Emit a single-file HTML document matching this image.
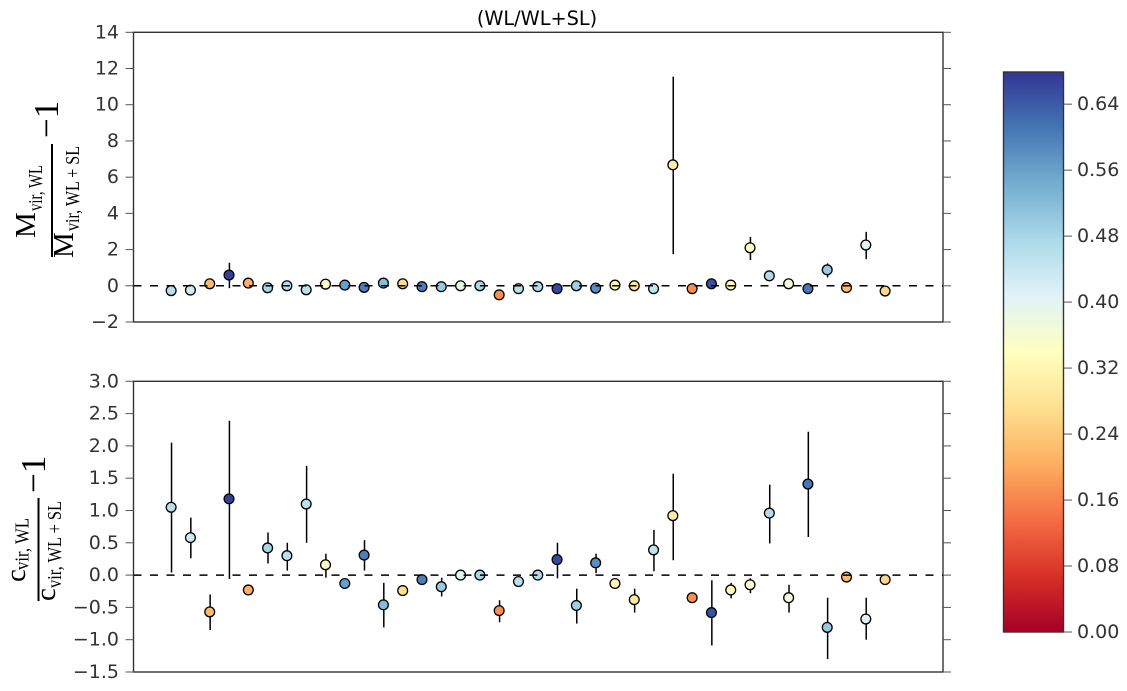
<!DOCTYPE html>
<html>
<head>
<meta charset="utf-8">
<title>WL/WL+SL ratios</title>
<style>
html,body{margin:0;padding:0;background:#fff;}
svg{display:block;}
.tick-label{font-family:"DejaVu Sans",sans-serif;font-size:19px;fill:#333;}
.math{font-family:"Liberation Serif",serif;fill:#000;}
</style>
</head>
<body>
<svg id="chart" width="1127" height="691" viewBox="0 0 1127 691" xmlns="http://www.w3.org/2000/svg">
  <defs>
    <linearGradient id="cbar-gradient" x1="0" y1="1" x2="0" y2="0"></linearGradient>
  </defs>
  <rect x="0" y="0" width="1127" height="691" fill="#fff"></rect>

  <text x="537" y="25" text-anchor="middle" font-family="'DejaVu Sans',sans-serif" font-size="19.3" fill="#000">(WL/WL+SL)</text>

  <g id="top-layer"></g>
  <g id="bottom-layer"></g>
  <g id="cbar-layer"></g>

  <g>
    <text class="math" transform="translate(35,238) rotate(-90)" font-size="29">M</text>
    <text class="math" transform="translate(42,211) rotate(-90)" font-size="20" textLength="46" lengthAdjust="spacingAndGlyphs">vir, WL</text>
    <rect x="51" y="144" width="2" height="113" fill="#000"></rect>
    <text class="math" transform="translate(73,258) rotate(-90)" font-size="29">M</text>
    <text class="math" transform="translate(79,231) rotate(-90)" font-size="20" textLength="85" lengthAdjust="spacingAndGlyphs">vir, WL + SL</text>
    <text class="math" transform="translate(58,138) rotate(-90)" font-size="35">−1</text>
  </g>
  <g>
    <text class="math" transform="translate(25,582) rotate(-90)" font-size="29">c</text>
    <text class="math" transform="translate(28.5,570) rotate(-90)" font-size="20" textLength="52" lengthAdjust="spacingAndGlyphs">vir, WL</text>
    <rect x="37.5" y="498" width="2" height="103" fill="#000"></rect>
    <text class="math" transform="translate(55,601) rotate(-90)" font-size="29">c</text>
    <text class="math" transform="translate(61,588) rotate(-90)" font-size="20" textLength="87" lengthAdjust="spacingAndGlyphs">vir, WL + SL</text>
    <text class="math" transform="translate(45,493) rotate(-90)" font-size="35">−1</text>
  </g>
</svg>
<script>
// ---- data ----
const clusterIndex = [1,2,3,4,5,6,7,8,9,10,11,12,13,14,15,16,17,18,19,20,21,22,23,24,25,26,27,28,29,30,31,32,33,34,35,36,37,38];
const colorValues = [0.46,0.43,0.22,0.67,0.205,0.48,0.46,0.46,0.35,0.56,0.60,0.52,0.27,0.60,0.50,0.39,0.48,0.17,0.46,0.47,0.66,0.49,0.58,0.32,0.29,0.45,0.30,0.17,0.65,0.33,0.35,0.47,0.37,0.61,0.50,0.22,0.41,0.26];

const massRatio = [-0.27,-0.24,0.11,0.59,0.15,-0.11,0.0,-0.22,0.09,0.04,-0.09,0.15,0.11,-0.05,-0.05,0.0,0.0,-0.50,-0.16,-0.05,-0.16,0.0,-0.13,0.04,0.0,-0.16,6.68,-0.16,0.11,0.04,2.10,0.55,0.11,-0.16,0.88,-0.10,2.25,-0.29];
const massUpper = [-0.17,-0.14,0.2,1.27,0.25,-0.01,0.1,-0.12,0.19,0.14,0.01,0.25,0.21,0.05,0.05,0.1,0.1,-0.4,-0.06,0.05,-0.06,0.1,-0.03,0.14,0.1,-0.06,11.55,-0.06,0.21,0.14,2.70,0.65,0.21,-0.06,1.24,0.0,2.98,-0.19];
const massLower = [-0.37,-0.34,0.01,-0.13,0.05,-0.21,-0.1,-0.32,-0.01,-0.06,-0.19,0.05,0.01,-0.15,-0.15,-0.1,-0.1,-0.6,-0.26,-0.15,-0.26,-0.1,-0.23,-0.06,-0.1,-0.26,1.75,-0.26,0.01,-0.06,1.42,0.45,0.01,-0.26,0.46,-0.2,1.47,-0.39];

const concRatio = [1.05,0.58,-0.57,1.18,-0.23,0.42,0.30,1.10,0.16,-0.13,0.31,-0.46,-0.24,-0.07,-0.18,0.0,0.0,-0.55,-0.10,0.0,0.24,-0.47,0.19,-0.13,-0.38,0.39,0.92,-0.35,-0.58,-0.23,-0.15,0.96,-0.35,1.41,-0.81,-0.03,-0.68,-0.07];
const concUpper = [2.05,0.89,-0.30,2.39,-0.18,0.66,0.50,1.69,0.33,-0.08,0.54,-0.12,-0.19,-0.02,-0.04,0.05,0.05,-0.39,-0.05,0.05,0.50,-0.21,0.33,-0.08,-0.21,0.70,1.57,-0.30,-0.08,-0.12,-0.05,1.40,-0.15,2.22,-0.35,0.02,-0.35,-0.02];
const concLower = [0.04,0.26,-0.85,-0.06,-0.28,0.18,0.07,0.50,-0.04,-0.18,0.07,-0.81,-0.29,-0.12,-0.33,-0.05,-0.05,-0.73,-0.15,-0.05,-0.05,-0.75,0.03,-0.18,-0.58,0.06,0.23,-0.40,-1.09,-0.36,-0.28,0.49,-0.58,0.59,-1.30,-0.08,-1.00,-0.12];

const massTicks = [14,12,10,8,6,4,2,0,-2];
const concTicks = [3.0,2.5,2.0,1.5,1.0,0.5,0.0,-0.5,-1.0,-1.5];
const cbarTicks = [0.00,0.08,0.16,0.24,0.32,0.40,0.48,0.56,0.64];
const colormap = ["#a50026","#d73027","#f46d43","#fdae61","#fee090","#ffffbf","#e0f3f8","#abd9e9","#74add1","#4575b4","#313695"];

// ---- scales ----
const plotLeft = 133.5, plotRight = 943;
const xDomain = [-0.95, 41];
const colorMax = 0.679;
function xScale(v){ return plotLeft + (v - xDomain[0]) / (xDomain[1] - xDomain[0]) * (plotRight - plotLeft); }
function linear(d0, d1, r0, r1){ return function(v){ return r0 + (v - d0) / (d1 - d0) * (r1 - r0); }; }
const massY = linear(14, -2, 32.3, 322);
const concY = linear(3, -1.5, 381.3, 672);
const cbarY = linear(0, colorMax, 632, 72);

function hexToRgb(h){ return [parseInt(h.slice(1,3),16),parseInt(h.slice(3,5),16),parseInt(h.slice(5,7),16)]; }
function colorFor(v){
  const t = Math.max(0, Math.min(1, v / colorMax)) * (colormap.length - 1);
  const i = Math.min(colormap.length - 2, Math.floor(t));
  const a = hexToRgb(colormap[i]), b = hexToRgb(colormap[i + 1]), f = t - i;
  return "rgb(" + a.map(function(c, k){ return Math.round(c + (b[k] - c) * f); }).join(",") + ")";
}
const NS = "http://www.w3.org/2000/svg";
function make(tag, parent, attrs){
  const el = document.createElementNS(NS, tag);
  for (const k in attrs) el.setAttribute(k, attrs[k]);
  parent.appendChild(el);
  return el;
}

function drawPanel(layer, yScale, ticks, decimals, values, upper, lower, top, bottom, prefix){
  const frame = make("rect", layer, {x: plotLeft, y: top, width: plotRight - plotLeft, height: bottom - top, fill: "#fff", stroke: "#333", "stroke-width": 1.4});
  
  

  ticks.forEach(function(t){
    const y = yScale(t);
    const left = make("line", layer, {x1: plotLeft - 8, x2: plotLeft, y1: y, y2: y, stroke: "#555", "stroke-width": 1});
    
    
    const right = make("line", layer, {x1: plotRight, x2: plotRight + 8, y1: y, y2: y, stroke: "#555", "stroke-width": 1});
    
    
    const label = make("text", layer, {x: 119, y: y + 6, "text-anchor": "end", "class": "tick-label"});
    label.textContent = (t < 0 ? "\u2212" : "") + Math.abs(t).toFixed(decimals);
    
    
  });

  clusterIndex.forEach(function(c, i){
    const bar = make("line", layer, {x1: xScale(c) + 0.4, x2: xScale(c) + 0.4, y1: yScale(upper[i]), y2: yScale(lower[i]), stroke: "#000", "stroke-width": 1.5});
    
    
  });
  clusterIndex.forEach(function(c, i){
    const pt = make("circle", layer, {cx: xScale(c), cy: yScale(values[i]), r: 4.9, fill: colorFor(colorValues[i]), stroke: "#000", "stroke-width": 1.3});
    
    
  });

  const zero = make("line", layer, {x1: plotLeft, x2: plotRight, y1: yScale(0), y2: yScale(0), stroke: "#000", "stroke-width": 1.5, "stroke-dasharray": "8 8.5"});
  
  
}

drawPanel(document.getElementById("top-layer"), massY, massTicks, 0, massRatio, massUpper, massLower, 32.3, 322, "mass");
drawPanel(document.getElementById("bottom-layer"), concY, concTicks, 1, concRatio, concUpper, concLower, 381.3, 672, "concentration");

// ---- colorbar ----
const grad = document.getElementById("cbar-gradient");
colormap.forEach(function(c, i){
  make("stop", grad, {offset: i / (colormap.length - 1), "stop-color": c});
});
const cbarLayer = document.getElementById("cbar-layer");
const cbarRect = make("rect", cbarLayer, {x: 1003.5, y: 72, width: 60, height: 560, fill: "url(#cbar-gradient)", stroke: "#333", "stroke-width": 1.4});


cbarTicks.forEach(function(t){
  const y = cbarY(t);
  const tick = make("line", cbarLayer, {x1: 1063.5, x2: 1072, y1: y, y2: y, stroke: "#555", "stroke-width": 1});
  
  
  const label = make("text", cbarLayer, {x: 1077, y: y + 6, "class": "tick-label"});
  label.textContent = t.toFixed(2);
  
  
});
</script>
</body>
</html>
